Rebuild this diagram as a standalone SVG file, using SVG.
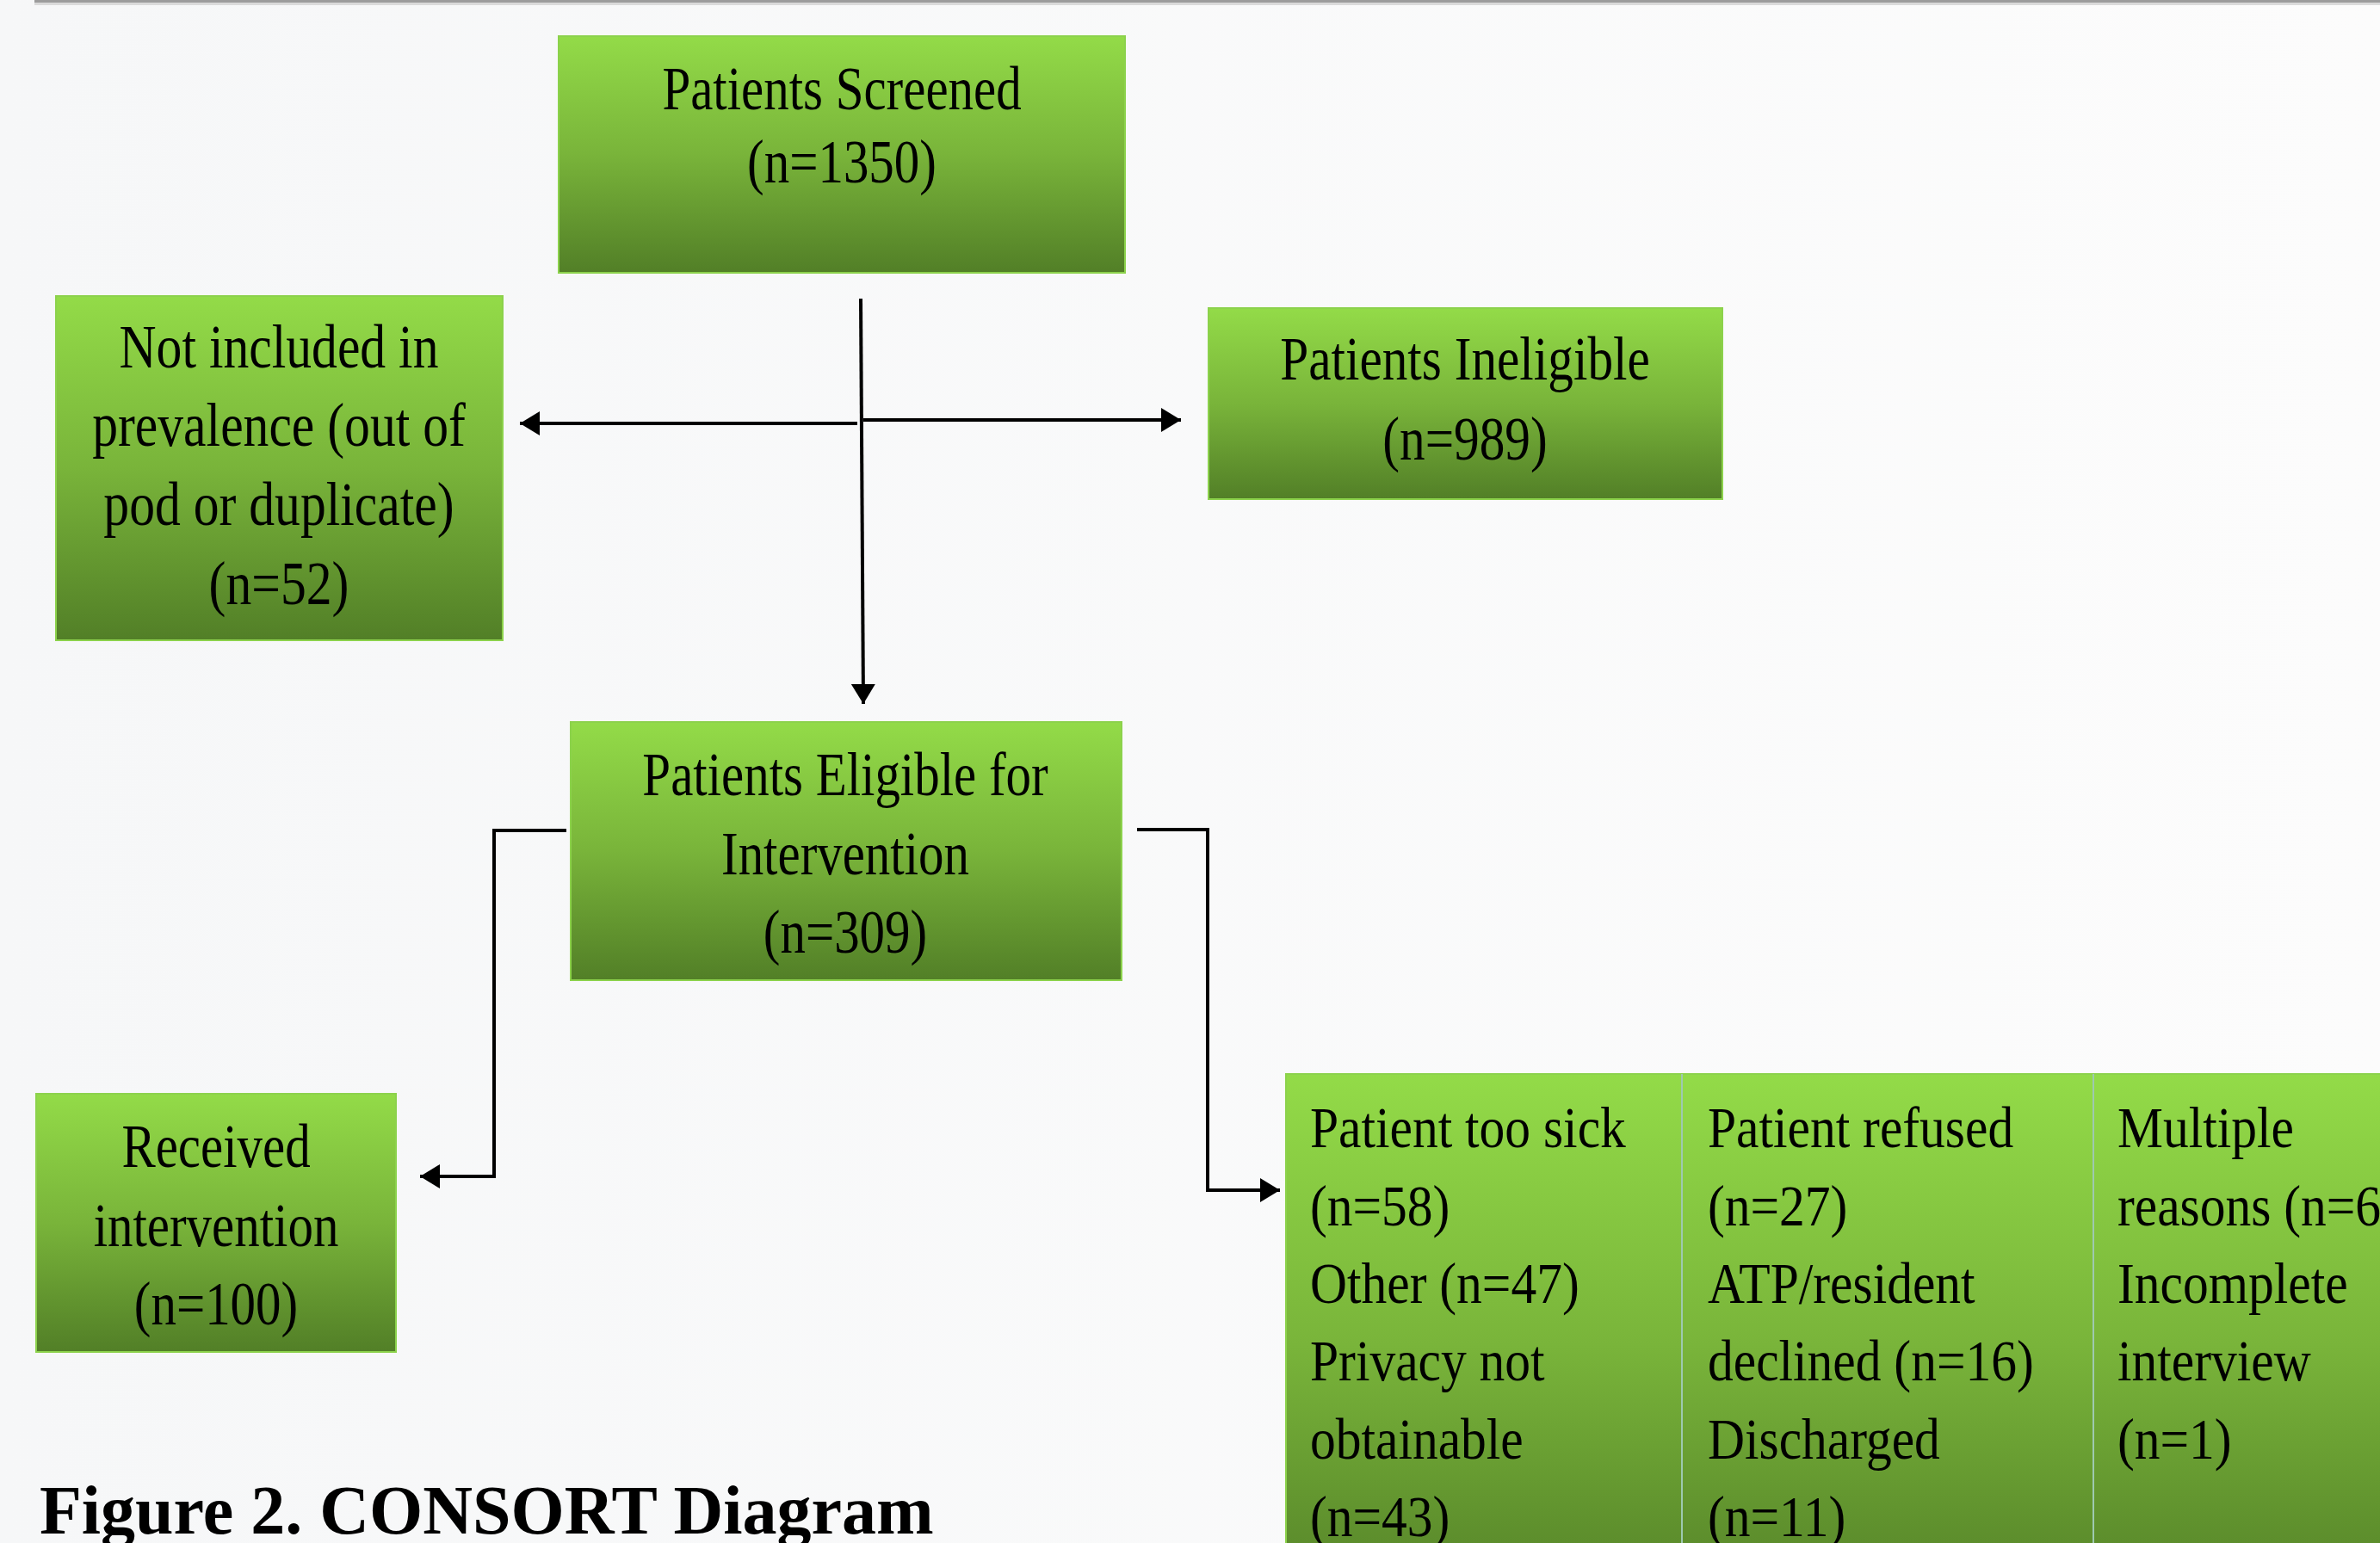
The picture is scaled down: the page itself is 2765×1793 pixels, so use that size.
<svg xmlns="http://www.w3.org/2000/svg" width="2765" height="1793" viewBox="0 0 2765 1793">
  <defs>
    <linearGradient id="bg" x1="0" y1="0" x2="1" y2="0">
      <stop offset="0" stop-color="#f6f7f8"/>
      <stop offset="1" stop-color="#fcfcfc"/>
    </linearGradient>
    <linearGradient id="green" x1="0" y1="0" x2="0" y2="1">
      <stop offset="0" stop-color="#93db48"/>
      <stop offset="0.5" stop-color="#79b43a"/>
      <stop offset="1" stop-color="#527f27"/>
    </linearGradient>
    <linearGradient id="greenTall" gradientUnits="userSpaceOnUse" x1="0" y1="1248" x2="0" y2="1880">
      <stop offset="0" stop-color="#93db48"/>
      <stop offset="0.5" stop-color="#79b43a"/>
      <stop offset="1" stop-color="#527f27"/>
    </linearGradient>
    <marker id="arr" markerUnits="userSpaceOnUse" markerWidth="26" markerHeight="30" refX="23" refY="14" orient="auto">
      <path d="M0,0 L23,14 L0,28 z" fill="#000"/>
    </marker>
    <style>
      .box { fill: url(#green); stroke: #8cd24c; stroke-width: 2; }
      .tbl { fill: url(#greenTall); stroke: #8cd24c; stroke-width: 2; }
      .t { font-family: 'Liberation Serif', 'Times New Roman', serif; font-size: 71px; fill: #000; text-anchor: middle; }
      .tl { font-family: 'Liberation Serif', 'Times New Roman', serif; font-size: 68px; fill: #000; }
      .cap { font-family: 'Liberation Serif', 'Times New Roman', serif; font-size: 80px; font-weight: bold; fill: #000; }
      .conn { fill: none; stroke: #000; stroke-width: 4; }
    </style>
  </defs>

  <rect x="0" y="0" width="2765" height="1793" fill="url(#bg)"/>
  <rect x="40" y="0" width="2725" height="3" fill="#9c9c9c"/>
  <rect x="40" y="3" width="2725" height="3" fill="#dadada"/>

  <g id="screened">
    <rect class="box" x="649" y="42" width="658" height="275"/>
    <g transform="translate(978,0) scale(0.83,1)">
      <text class="t" x="0" y="127">Patients Screened</text>
      <text class="t" x="0" y="212">(n=1350)</text>
    </g>
  </g>

  <g id="not-included">
    <rect class="box" x="65" y="344" width="519" height="400"/>
    <g transform="translate(324,0) scale(0.84,1)">
      <text class="t" x="0" y="427">Not included in</text>
      <text class="t" x="0" y="518">prevalence (out of</text>
      <text class="t" x="0" y="610">pod or duplicate)</text>
      <text class="t" x="0" y="702">(n=52)</text>
    </g>
  </g>

  <g id="ineligible">
    <rect class="box" x="1404" y="358" width="597" height="222"/>
    <g transform="translate(1702,0) scale(0.835,1)">
      <text class="t" x="0" y="441">Patients Ineligible</text>
      <text class="t" x="0" y="534">(n=989)</text>
    </g>
  </g>

  <g id="eligible">
    <rect class="box" x="663" y="839" width="640" height="300"/>
    <g transform="translate(982,0) scale(0.83,1)">
      <text class="t" x="0" y="924">Patients Eligible for</text>
      <text class="t" x="0" y="1016">Intervention</text>
      <text class="t" x="0" y="1107">(n=309)</text>
    </g>
  </g>

  <g id="received">
    <rect class="box" x="42" y="1271" width="418" height="300"/>
    <g transform="translate(251,0) scale(0.83,1)">
      <text class="t" x="0" y="1356">Received</text>
      <text class="t" x="0" y="1448">intervention</text>
      <text class="t" x="0" y="1539">(n=100)</text>
    </g>
  </g>

  <g id="excluded-reasons">
    <rect class="tbl" x="1494" y="1248" width="460" height="640"/>
    <rect class="tbl" x="1954" y="1248" width="478" height="640"/>
    <rect class="tbl" x="2432" y="1248" width="400" height="640"/>
    <line x1="1954" y1="1248" x2="1954" y2="1793" stroke="#9ec9b0" stroke-width="2"/>
    <line x1="2432" y1="1248" x2="2432" y2="1793" stroke="#9ec9b0" stroke-width="2"/>
    <g transform="translate(1522,0) scale(0.875,1)">
      <text class="tl" x="0" y="1333">Patient too sick</text>
      <text class="tl" x="0" y="1424">(n=58)</text>
      <text class="tl" x="0" y="1514">Other (n=47)</text>
      <text class="tl" x="0" y="1604">Privacy not</text>
      <text class="tl" x="0" y="1695">obtainable</text>
      <text class="tl" x="0" y="1785">(n=43)</text>
    </g>
    <g transform="translate(1984,0) scale(0.875,1)">
      <text class="tl" x="0" y="1333">Patient refused</text>
      <text class="tl" x="0" y="1424">(n=27)</text>
      <text class="tl" x="0" y="1514">ATP/resident</text>
      <text class="tl" x="0" y="1604">declined (n=16)</text>
      <text class="tl" x="0" y="1695">Discharged</text>
      <text class="tl" x="0" y="1785">(n=11)</text>
    </g>
    <g transform="translate(2460,0) scale(0.875,1)">
      <text class="tl" x="0" y="1333">Multiple</text>
      <text class="tl" x="0" y="1424">reasons (n=6</text>
      <text class="tl" x="0" y="1514">Incomplete</text>
      <text class="tl" x="0" y="1604">interview</text>
      <text class="tl" x="0" y="1695">(n=1)</text>
    </g>
  </g>

  <g id="connectors">
    <path class="conn" d="M1000,347 L1003,818" marker-end="url(#arr)"/>
    <path class="conn" d="M996,492 L604,492" marker-end="url(#arr)"/>
    <path class="conn" d="M1003,488 L1372,488" marker-end="url(#arr)"/>
    <path class="conn" d="M658,965 L574,965 L574,1367 L488,1367" marker-end="url(#arr)"/>
    <path class="conn" d="M1321,964 L1403,964 L1403,1383 L1487,1383" marker-end="url(#arr)"/>
  </g>

  <text class="cap" x="46" y="1782">Figure 2. CONSORT Diagram</text>
</svg>
